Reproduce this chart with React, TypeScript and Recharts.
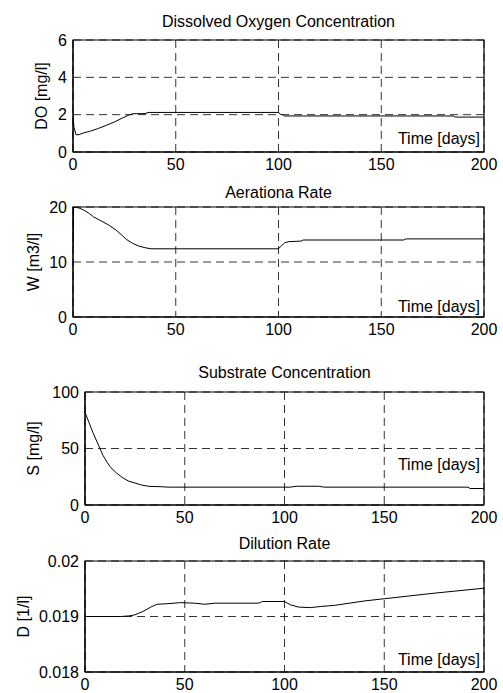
import React from 'react';
import { LineChart, Line, XAxis, YAxis, CartesianGrid, ReferenceArea } from 'recharts';

// time axis shared by all four panels
const timeTicks = [0, 50, 100, 150, 200];

// Dissolved oxygen
const doTime = [0, 0.5, 1.5, 3, 5, 8, 12, 16, 20, 24, 27, 29, 35, 37, 100, 101, 102, 103, 185, 186, 200];
const doValues = [1.95, 1.3, 0.92, 0.93, 1.02, 1.1, 1.25, 1.42, 1.6, 1.82, 1.97, 2.05, 2.06, 2.12, 2.12, 2.02, 2.0, 1.93, 1.93, 1.87, 1.87];
const doTicks = [0, 2, 4, 6];

// Aeration rate
const wTime = [0, 0.3, 1, 3, 5, 8, 10, 13, 17, 21, 24, 26, 29, 32, 35, 38, 100, 101, 103, 105, 111, 112, 161, 162, 200];
const wValues = [13, 19.8, 20, 19.8, 19.5, 18.8, 18.2, 17.6, 16.8, 15.8, 14.8, 14.1, 13.4, 12.9, 12.6, 12.4, 12.4, 12.8, 13.5, 13.7, 13.8, 14.0, 14.0, 14.2, 14.2];
const wTicks = [0, 10, 20];

// Substrate
const sTime = [0, 2, 4, 6, 7.5, 9, 11, 13, 16, 19, 22, 25, 28, 32, 38, 42, 103, 106, 117, 120, 192, 193, 200];
const sValues = [82, 73, 64, 56, 50, 44, 38, 33, 28, 24, 21, 19.5, 17.8, 16.5, 16.2, 15.8, 15.8, 16.6, 16.6, 15.8, 15.8, 14.6, 14.6];
const sTicks = [0, 50, 100];

// Dilution rate
const dTime = [0, 18, 22, 25, 29, 33, 36, 41, 48, 55, 60, 65, 87, 89, 100, 103, 107, 113, 118, 125, 140, 150, 175, 200];
const dValues = [0.019, 0.019, 0.01901, 0.01903, 0.01909, 0.01917, 0.01922, 0.01923, 0.01925, 0.01924, 0.01922, 0.01924, 0.01924, 0.01927, 0.01927, 0.01921, 0.01917, 0.01916, 0.01918, 0.0192, 0.01928, 0.01932, 0.01942, 0.01951];
const dTicks = [0.018, 0.019, 0.02];

const toRows = (t: number[], v: number[]) => t.map((x, i) => ({ t: x, v: v[i] }));

const W = 503;
const H = 693;
const RIGHT = 484;
const YW = 60;
const font = '"Liberation Sans", Arial, Helvetica, sans-serif';

type PanelProps = {
  data: { t: number; v: number }[];
  ticks: number[];
  left: number;
  top: number;
  bottom: number;
};

function Panel({ data, ticks, left, top, bottom }: PanelProps) {
  const ymin = ticks[0];
  const ymax = ticks[ticks.length - 1];
  return (
    <div style={{ position: 'absolute', left: 0, top: top - 10 }}>
      <LineChart
        width={W}
        height={bottom - top + 40}
        data={data}
        margin={{ top: 10, right: W - RIGHT, left: left - YW, bottom: 0 }}
      >
        <CartesianGrid stroke="#000" strokeDasharray="8 5" strokeWidth={0.8} />
        <XAxis
          type="number"
          dataKey="t"
          domain={[0, 200]}
          ticks={timeTicks}
          height={30}
          tickLine={false}
          tickSize={0}
          tickMargin={7}
          axisLine={{ stroke: '#000' }}
          tick={{ fontSize: 16, fill: '#000', fontFamily: font }}
          allowDataOverflow
        />
        <YAxis
          type="number"
          domain={[ymin, ymax]}
          ticks={ticks}
          width={YW}
          tickLine={false}
          tickSize={0}
          tickMargin={6}
          axisLine={{ stroke: '#000' }}
          tick={{ fontSize: 16, fill: '#000', fontFamily: font }}
          allowDataOverflow
        />
        <ReferenceArea x1={0} x2={200} y1={ymin} y2={ymax} fill="none" stroke="#000" strokeWidth={1.2} fillOpacity={0} />
        <Line type="linear" dataKey="v" stroke="#000" strokeWidth={1} dot={false} isAnimationActive={false} />
      </LineChart>
    </div>
  );
}

const panels = [
  { title: 'Dissolved Oxygen Concentration', ylabel: 'DO [mg/l]', data: toRows(doTime, doValues), ticks: doTicks, left: 73, top: 40, bottom: 152, titleY: 27, timeY: 144, ylabelX: 47 },
  { title: 'Aerationa Rate', ylabel: 'W [m3/l]', data: toRows(wTime, wValues), ticks: wTicks, left: 73, top: 207, bottom: 317, titleY: 198, timeY: 311.5, ylabelX: 39 },
  { title: 'Substrate Concentration', ylabel: 'S [mg/l]', data: toRows(sTime, sValues), ticks: sTicks, left: 85, top: 392, bottom: 505, titleY: 378, timeY: 470, ylabelX: 39 },
  { title: 'Dilution Rate', ylabel: 'D [1/l]', data: toRows(dTime, dValues), ticks: dTicks, left: 85, top: 561, bottom: 672, titleY: 549, timeY: 665, ylabelX: 29 },
];

export default function App() {
  return (
    <div style={{ position: 'absolute', left: 0, top: 0, width: W, height: H, background: '#fff', fontFamily: font }}>
      {panels.map((p) => (
        <Panel key={p.title} data={p.data} ticks={p.ticks} left={p.left} top={p.top} bottom={p.bottom} />
      ))}
      <svg width={W} height={H} style={{ position: 'absolute', left: 0, top: 0, pointerEvents: 'none' }}>
        {panels.map((p) => {
          const cy = (p.top + p.bottom) / 2;
          return (
            <g key={p.title} fontFamily={font} fontSize={16} fill="#000">
              <text x={(p.left + RIGHT) / 2} y={p.titleY} textAnchor="middle">{p.title}</text>
              <text x={480} y={p.timeY} textAnchor="end">Time [days]</text>
              <text x={p.ylabelX} y={cy} textAnchor="middle" transform={`rotate(-90 ${p.ylabelX} ${cy})`}>{p.ylabel}</text>
            </g>
          );
        })}
      </svg>
    </div>
  );
}
